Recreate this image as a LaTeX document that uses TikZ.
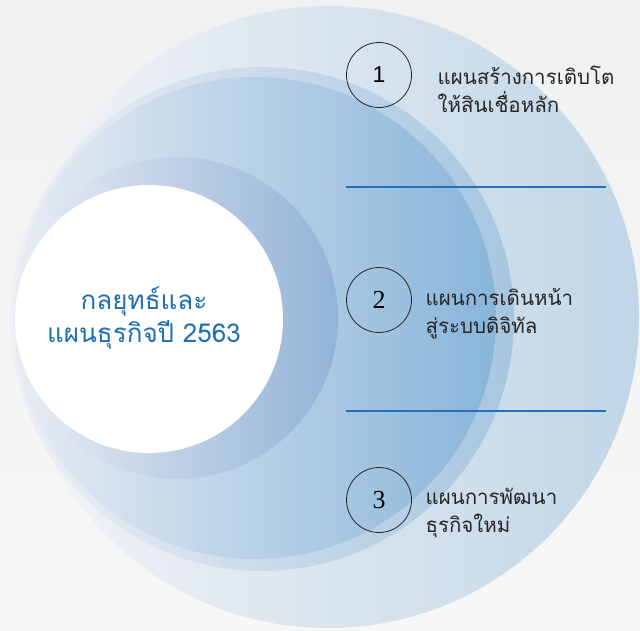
\documentclass[tikz,border=0pt]{standalone}
\usepackage{fontspec}
\newfontfamily\thaifont[Script=Thai]{Loma}
\setmainfont{Liberation Serif}
\setsansfont{Liberation Sans}
\begin{document}
\begin{tikzpicture}[x=1pt,y=-1pt,
  numcirc/.style={circle,draw=black!85,line width=0.8pt,minimum size=65pt,inner sep=0pt,font=\fontsize{26}{26}\selectfont},
  itemtext/.style={anchor=west,align=left,text=black!85,font=\thaifont\fontsize{20.5}{28}\selectfont},
  sepline/.style={draw=sepblue,line width=1.2pt}]
\definecolor{bgtop}{HTML}{F0F1F1}
\definecolor{bgbot}{HTML}{F7F7F7}
\definecolor{titleblue}{HTML}{1E6FB5}
\definecolor{sepblue}{RGB}{34,112,190}
\useasboundingbox (0,0) rectangle (640,630);
\shade[top color=bgtop,bottom color=bgbot] (0,0) rectangle (640,630);
% outer circle
\shade[left color={rgb,255:red,243;green,244;blue,246},right color={rgb,255:red,192;green,214;blue,231}] (328,317) circle (311);
% second circle
\shade[left color={rgb,255:red,238;green,240;blue,245},right color={rgb,255:red,166;green,198;blue,224}] (262,319) circle (252);
% third circle
\shade[left color={rgb,255:red,232;green,236;blue,243},right color={rgb,255:red,136;green,181;blue,217}] (255,318) circle (241);
% inner crescent circle
\shade[left color={rgb,255:red,234;green,237;blue,244},right color={rgb,255:red,146;green,179;blue,214}] (177,318) circle (161);
% white circle
\fill[white] (149,319) circle (134);
\node[text=titleblue,align=center,font=\thaifont\fontsize{26}{33}\selectfont] (title) at (144,318) {กลยุทธ์และ\\แผนธุรกิจปี 2563};
% separators
\coordinate (l1a) at (346,187); \coordinate (l1b) at (606,187);
\coordinate (l2a) at (346,411); \coordinate (l2b) at (606,411);
\draw[sepline] (l1a) -- (l1b);
\draw[sepline] (l2a) -- (l2b);
% numbered circles
\node[numcirc,font=\sffamily\fontsize{23}{23}\selectfont] (n1) at (379,75) {1};
\node[numcirc] (n2) at (379,300) {2};
\node[numcirc] (n3) at (379,500) {3};
% texts
\node[itemtext] (t1) at (434,89) {แผนสร้างการเติบโต\\ให้สินเชื่อหลัก};
\node[itemtext] (t2) at (422,314) {แผนการเดินหน้า\\สู่ระบบดิจิทัล};
\node[itemtext] (t3) at (422,513) {แผนการพัฒนา\\ธุรกิจใหม่};
\end{tikzpicture}
\end{document}
